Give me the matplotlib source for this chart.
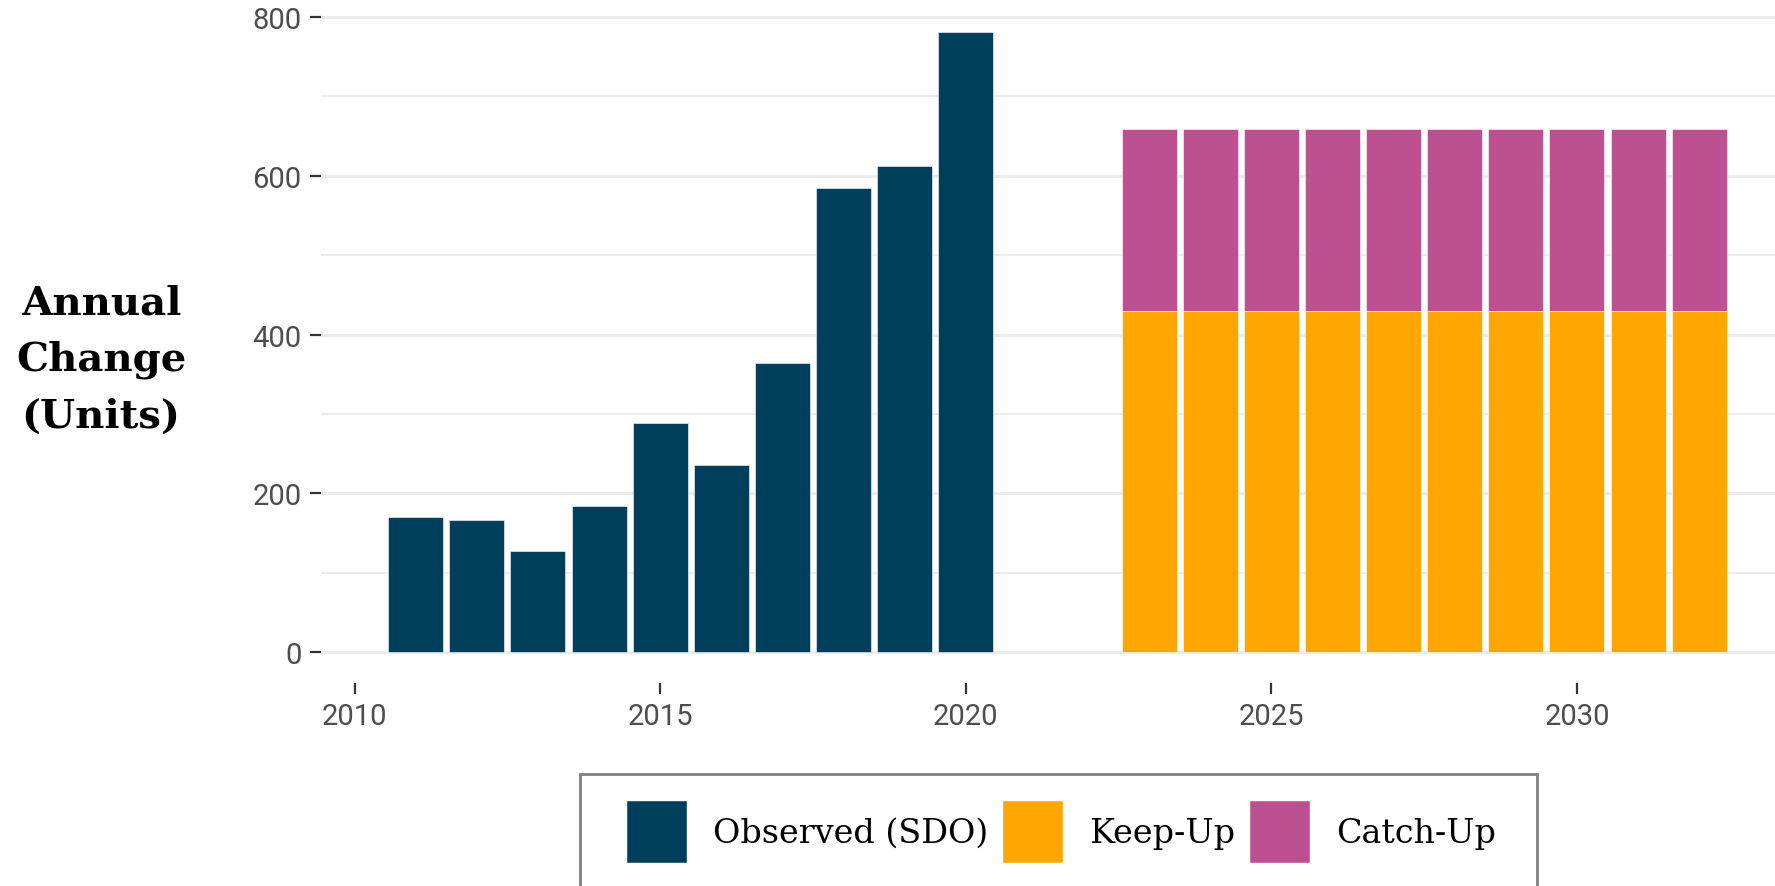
import matplotlib
matplotlib.use('Agg')
import matplotlib.pyplot as plt
from matplotlib.patches import Patch, Rectangle

# ---- data
obs_years = [2011, 2012, 2013, 2014, 2015, 2016, 2017, 2018, 2019, 2020]
obs_vals = [170, 166, 127, 184, 288, 235, 364, 584, 612, 781]

proj_years = [2023, 2024, 2025, 2026, 2027, 2028, 2029, 2030, 2031, 2032]
keep_up = [430, 430, 430, 430, 430, 430, 430, 430, 430, 430]
catch_up = [229, 229, 229, 229, 229, 229, 229, 229, 229, 229]

c_obs = '#003f5c'
c_keep = '#ffa600'
c_catch = '#bc5090'

W, H = 1775, 887
fig = plt.figure(figsize=(W / 100, H / 100), dpi=100)
ax = fig.add_axes([321 / W, (H - 684) / H, 1 - 321 / W, (684 - 2.1) / H])

# grid (ggplot minimal style)
for v in [100, 300, 500, 700]:
    ax.axhline(v, color='#ebebeb', lw=1.3, zorder=0)
for v in [0, 200, 400, 600, 800]:
    ax.axhline(v, color='#ebebeb', lw=2.2, zorder=0)

ax.bar(obs_years, obs_vals, width=0.9, color=c_obs, edgecolor='white', linewidth=0.4, zorder=2)
ax.bar(proj_years, keep_up, width=0.9, color=c_keep, edgecolor='white', linewidth=0.4, zorder=2)
ax.bar(proj_years, catch_up, bottom=keep_up, width=0.9, color=c_catch, edgecolor='white', linewidth=0.4, zorder=2)

ax.set_xlim(2009.45, 2033.24)
ax.set_ylim(-39, 820)
ax.set_xticks([2010, 2015, 2020, 2025, 2030])
ax.set_yticks([0, 200, 400, 600, 800])
for s in ax.spines.values():
    s.set_visible(False)
ax.tick_params(axis='both', length=8, width=1.6, color='#333333',
               labelcolor='#4d4d4d', labelsize=21, pad=6)
for lab in ax.get_xticklabels() + ax.get_yticklabels():
    lab.set_fontfamily('Roboto')

fig.text(101 / W, 1 - 360 / H, 'Annual\nChange\n(Units)', ha='center', va='center',
         multialignment='center', fontsize=29, fontweight='bold',
         family='DejaVu Serif', linespacing=1.62)

# legend: box drawn by hand (runs off the bottom edge like the original)
fig.patches.append(Rectangle((580 / W, -0.05), (1537 - 580) / W, 1 - 775 / H + 0.05,
                             transform=fig.transFigure, fill=False,
                             edgecolor='#808080', linewidth=2.0))
handles = [Patch(facecolor=c_obs, edgecolor='white', label='Observed (SDO)'),
           Patch(facecolor=c_keep, edgecolor='white', label='Keep-Up'),
           Patch(facecolor=c_catch, edgecolor='white', label='Catch-Up')]
leg = fig.legend(handles=handles, loc='upper left', bbox_to_anchor=(626 / W, 1 - 801 / H),
                 ncol=3, frameon=False,
                 prop={'family': 'DejaVu Serif', 'size': 24},
                 handlelength=1.83, handleheight=2.52, handletextpad=0.78,
                 columnspacing=0.42, borderpad=0, borderaxespad=0)

fig.savefig('out.png', dpi=100)
